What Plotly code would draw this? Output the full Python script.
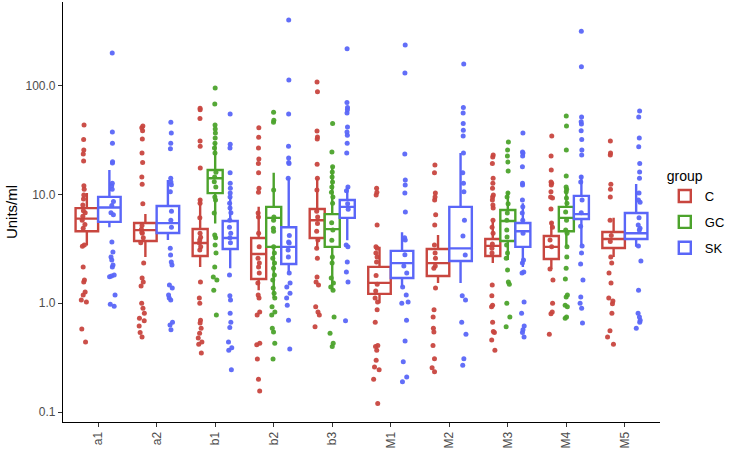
import plotly.graph_objects as go

categories = ["a1", "a2", "b1", "b2", "b3", "M1", "M2", "M3", "M4", "M5"]
groups = ["C", "GC", "SK"]
two_group_cats = ["a1", "a2", "M1", "M2", "M5"]
three_group_cats = ["b1", "b2", "b3", "M3", "M4"]
colors = {"C": "#C8463F", "GC": "#4CA32C", "SK": "#5A66F8"}
y_tick_vals = [0.1, 1, 10, 100]
y_tick_text = ["0.1", "1.0", "10.0", "100.0"]

# box statistics (whisker ends, quartiles, median), per category
C_lower = [3.4, 2.67, 2.16, 1.32, 3.2, 1.0, 1.54, 2.34, 2.07, 2.66]
C_q1 = [4.6, 3.74, 2.72, 1.67, 3.98, 1.22, 1.78, 2.72, 2.55, 3.22]
C_med = [6.0, 4.7, 3.58, 2.84, 5.8, 1.54, 2.34, 3.37, 3.3, 3.9]
C_q3 = [7.5, 5.47, 4.82, 3.98, 7.36, 2.16, 3.15, 3.9, 4.15, 4.52]
C_upper = [10.3, 6.6, 9.2, 7.7, 14.1, 3.3, 4.24, 5.6, 5.6, 6.1]

GC_lower = [5.4, 1.12, 1.32, 2.5, 3.3]      # b1, b2, b3, M3, M4
GC_q1 = [10.3, 3.3, 3.3, 3.74, 4.6]
GC_med = [14.1, 6.1, 4.8, 5.7, 6.1]
GC_q3 = [16.8, 7.7, 6.6, 7.2, 7.7]
GC_upper = [30, 15.8, 18.3, 10.6, 11.7]

SK_lower = [5.0, 3.82, 2.1, 1.94, 3.8, 1.41, 1.54, 2.16, 3.4, 3.3]
SK_q1 = [5.6, 4.43, 3.15, 2.3, 6.1, 1.71, 2.45, 3.3, 5.95, 3.9]
SK_med = [7.6, 5.45, 3.98, 3.3, 7.7, 2.34, 3.2, 4.6, 6.6, 4.4]
SK_q3 = [9.5, 7.84, 5.7, 5.0, 8.9, 3.03, 7.7, 5.47, 9.7, 6.76]
SK_upper = [16.8, 13.6, 9.5, 14.1, 11.7, 4.5, 24, 8.3, 15.1, 12.5]

# individual observations (Units/ml)
pts_C_a1 = [43.5, 32, 25.7, 23.6, 20.3, 12.0, 11.2, 9.9, 9.1, 8.0, 7.1, 6.8, 6.3, 5.8, 5.3, 4.9, 3.43, 3.35, 2.15, 1.64, 1.57, 1.27, 1.19, 1.07, 1.03, 0.58, 0.44]
pts_SK_a1 = [200, 37.5, 29.5, 20.0, 19.5, 12.7, 12.0, 11.2, 8.6, 7.9, 6.8, 6.5, 3.66, 2.96, 2.66, 2.5, 2.25, 2.15, 1.82, 1.78, 1.75, 1.19, 0.98, 0.94]
pts_C_a2 = [42.5, 41, 38.5, 32.4, 24, 19.7, 14.5, 12.4, 8.2, 5.2, 4.8, 4.5, 4.4, 4.0, 3.6, 2.35, 1.71, 1.57, 1.44, 1.0, 0.90, 0.81, 0.73, 0.69, 0.62, 0.54, 0.49]
pts_SK_a2 = [46, 36.7, 29.6, 26.3, 14.1, 13.0, 12.3, 10.6, 7.0, 5.8, 5.0, 3.2, 2.78, 2.4, 2.25, 1.47, 1.38, 1.19, 1.12, 1.07, 0.67, 0.63, 0.57]
pts_C_b1 = [62, 60, 50, 31, 27.8, 17.5, 8.9, 8.3, 6.1, 4.4, 4.05, 3.82, 3.58, 3.3, 3.09, 1.57, 1.12, 1.0, 0.70, 0.66, 0.59, 0.53, 0.48, 0.44, 0.42, 0.35]
pts_GC_b1 = [95, 68, 43.5, 40, 36.7, 33, 29.6, 26.8, 24.0, 16.0, 14.5, 13.1, 11.7, 9.5, 8.9, 6.75, 4.24, 4.0, 3.43, 2.9, 2.16, 1.74, 1.64, 1.32, 0.78]
pts_SK_b1 = [55, 29, 26.8, 15.8, 12.7, 11.4, 10.3, 9.5, 8.3, 7.5, 6.8, 5.8, 5.0, 4.4, 4.0, 3.6, 1.82, 1.17, 1.07, 0.81, 0.67, 0.60, 0.44, 0.39, 0.37, 0.245]
pts_C_b2 = [41, 33.6, 26.8, 21.2, 19.3, 15.8, 11.4, 10.5, 6.75, 6.2, 4.4, 3.3, 2.6, 2.35, 2.16, 1.9, 1.54, 1.19, 1.12, 0.83, 0.78, 0.43, 0.415, 0.307, 0.20, 0.156]
pts_GC_b2 = [57, 48, 46, 11.0, 6.2, 5.8, 4.9, 4.6, 3.3, 2.9, 2.6, 2.35, 2.1, 1.82, 1.64, 1.38, 1.24, 1.12, 0.93, 0.83, 0.78, 0.59, 0.545, 0.43, 0.307]
pts_SK_b2 = [402, 113, 55, 27.8, 21.6, 19.7, 19.3, 14.1, 4.2, 3.66, 3.58, 3.09, 2.66, 1.9, 1.54, 1.41, 1.24, 1.12, 0.96, 0.70, 0.38]
pts_C_b3 = [108, 88, 38.3, 33.7, 32.4, 19.0, 14.1, 11.0, 7.0, 6.2, 5.4, 4.6, 3.82, 3.2, 2.6, 1.74, 1.57, 1.47, 0.93, 0.83, 0.78, 0.61]
pts_GC_b3 = [45, 24.6, 18.0, 16.1, 14.5, 13.0, 11.7, 10.5, 9.5, 8.3, 5.5, 4.72, 3.8, 2.66, 2.35, 1.71, 1.54, 1.41, 1.32, 0.75, 0.53, 0.43, 0.40]
pts_SK_b3 = [218, 70, 63, 60, 56, 41.8, 37.5, 35, 29.6, 24, 11.7, 10.8, 8.2, 7.3, 3.43, 3.3, 2.4, 1.94, 1.57, 0.69]
pts_C_M1 = [11.4, 10.5, 9.9, 5.25, 3.3, 3.2, 2.9, 2.66, 2.4, 1.8, 1.5, 1.3, 1.12, 1.03, 0.87, 0.67, 0.41, 0.40, 0.37, 0.30, 0.26, 0.245, 0.20, 0.12]
pts_SK_M1 = [237, 131, 23.6, 13.6, 12.2, 10.3, 6.9, 4.0, 3.82, 2.8, 2.2, 1.9, 1.41, 1.19, 1.03, 1.0, 0.70, 0.45, 0.29, 0.21, 0.19]
pts_C_M2 = [18.7, 15.8, 10.3, 9.5, 8.9, 6.5, 5.25, 3.43, 2.9, 2.6, 2.2, 2.1, 1.38, 0.87, 0.75, 0.59, 0.545, 0.41, 0.31, 0.255, 0.235]
pts_SK_M2 = [158, 63, 56, 45, 39, 34.5, 24, 15.8, 12.7, 10.6, 5.8, 4.15, 2.78, 1.17, 1.07, 0.67, 0.52, 0.31, 0.27]
pts_C_M3 = [23.1, 22.1, 19.3, 14.1, 12.7, 11.4, 9.9, 9.5, 8.9, 8.0, 7.5, 5.8, 5.0, 4.4, 3.5, 3.2, 2.9, 1.47, 1.17, 0.96, 0.93, 0.67, 0.55, 0.54, 0.46, 0.37]
pts_GC_M3 = [30.3, 25.7, 22.6, 19.9, 16.4, 10.3, 9.5, 8.2, 6.75, 5.8, 4.72, 4.07, 3.43, 2.9, 2.6, 2.02, 1.57, 1.5, 1.0, 0.75, 0.61]
pts_SK_M3 = [36.7, 24.6, 24, 22.6, 18.0, 12.7, 12.2, 8.9, 7.7, 6.75, 5.8, 4.4, 2.5, 2.35, 1.94, 1.9, 1.03, 0.81, 0.62, 0.57, 0.54, 0.49]
pts_C_M4 = [34.5, 22.6, 16.8, 13.0, 12.7, 12.2, 10.6, 9.5, 9.3, 7.36, 5.47, 5.0, 3.82, 3.3, 2.07, 1.64, 1.0, 0.83, 0.80, 0.52]
pts_GC_M4 = [52.6, 42.5, 25.7, 14.8, 11.7, 11.2, 10.6, 9.3, 8.3, 6.9, 5.8, 4.72, 4.4, 3.3, 2.66, 2.1, 1.67, 1.19, 1.14, 0.96, 0.93, 0.75, 0.73]
pts_SK_M4 = [317, 149, 51.5, 46.5, 44.5, 38.5, 32, 25.7, 23.1, 14.5, 13.0, 8.9, 6.8, 5.1, 3.37, 2.9, 2.3, 1.64, 1.14, 1.0, 0.90, 0.66]
pts_C_M5 = [31, 24, 23.1, 12.4, 11.2, 9.5, 5.8, 4.2, 3.7, 2.66, 2.34, 1.9, 1.54, 1.12, 1.05, 0.99, 0.81, 0.56, 0.49, 0.42]
pts_SK_M5 = [58.5, 51.5, 33, 27.4, 19.3, 16.1, 14.1, 10.3, 8.9, 8.5, 6.1, 5.25, 4.9, 4.72, 3.37, 2.45, 1.32, 0.81, 0.75, 0.70, 0.67, 0.59]

stats = {
    "C": (categories, C_lower, C_q1, C_med, C_q3, C_upper),
    "GC": (three_group_cats, GC_lower, GC_q1, GC_med, GC_q3, GC_upper),
    "SK": (categories, SK_lower, SK_q1, SK_med, SK_q3, SK_upper),
}
g = globals()

fig = go.Figure()
sets = [("two", two_group_cats), ("three", three_group_cats)]

# boxes
for set_name, cats in sets:
    for grp in groups:
        cat_list, lo, q1, md, q3, hi = stats[grp]
        idx = [cat_list.index(c) for c in cats if c in cat_list]
        if not idx:
            continue
        fig.add_trace(go.Box(
            x=[cat_list[i] for i in idx],
            lowerfence=[lo[i] for i in idx], q1=[q1[i] for i in idx],
            median=[md[i] for i in idx], q3=[q3[i] for i in idx],
            upperfence=[hi[i] for i in idx],
            name=grp, legendgroup=grp, showlegend=(set_name == "three"),
            alignmentgroup=set_name, offsetgroup=grp,
            line=dict(color=colors[grp], width=2.4), fillcolor="white",
            whiskerwidth=0, boxpoints=False,
        ))

# points
for set_name, cats in sets:
    for grp in groups:
        xs, ys = [], []
        for c in cats:
            key = f"pts_{grp}_{c}"
            if key in g:
                xs += [c] * len(g[key])
                ys += g[key]
        if not xs:
            continue
        if set_name == "two":
            pp = -0.27 if grp == "C" else 0.27
        else:
            pp = 0
        fig.add_trace(go.Box(
            x=xs, y=ys, name=grp, legendgroup=grp, showlegend=False,
            alignmentgroup=set_name, offsetgroup=grp,
            boxpoints="all", jitter=0.3, pointpos=pp,
            fillcolor="rgba(0,0,0,0)", line=dict(width=0, color="rgba(0,0,0,0)"),
            marker=dict(color=colors[grp], size=5, opacity=0.95),
            whiskerwidth=0, hoveron="points",
        ))

fig.update_layout(
    width=740, height=450,
    margin=dict(l=63, r=80, t=2, b=28),
    paper_bgcolor="white", plot_bgcolor="white",
    font=dict(family="Liberation Sans, Arial, sans-serif", size=12, color="#4D4D4D"),
    boxmode="group", boxgap=0.23, boxgroupgap=0.0,
    legend=dict(
        title=dict(text="group", font=dict(size=14, color="black")),
        font=dict(size=13, color="black"),
        x=1.008, xanchor="left", y=0.617, yanchor="top",
        tracegroupgap=6, bgcolor="rgba(0,0,0,0)",
    ),
    showlegend=True,
)
fig.update_xaxes(
    categoryorder="array", categoryarray=categories,
    range=[-0.6, len(categories) - 0.4],
    showline=True, linecolor="black", linewidth=1.2,
    ticks="outside", ticklen=4, tickcolor="#333333", tickangle=-90,
    showgrid=False, zeroline=False, automargin=False,
    tickfont=dict(size=12, color="#4D4D4D"),
)
fig.update_yaxes(
    type="log", range=[-1.091, 2.769],
    tickvals=y_tick_vals, ticktext=y_tick_text,
    showline=True, linecolor="black", linewidth=1.2,
    ticks="outside", ticklen=4, tickcolor="#333333",
    showgrid=False, zeroline=False, automargin=False,
    tickfont=dict(size=12, color="#4D4D4D"),
    title=dict(text="Units/ml", font=dict(size=15, color="black"), standoff=4),
)

fig.write_html("out.html", config={"displayModeBar": False})

# remove the default page margin so the figure sits at the window's corner
with open("out.html", "r", encoding="utf-8") as f:
    html = f.read()
html = html.replace("<head>", "<head><style>html,body{margin:0;padding:0;overflow:hidden;}</style>", 1)
with open("out.html", "w", encoding="utf-8") as f:
    f.write(html)
